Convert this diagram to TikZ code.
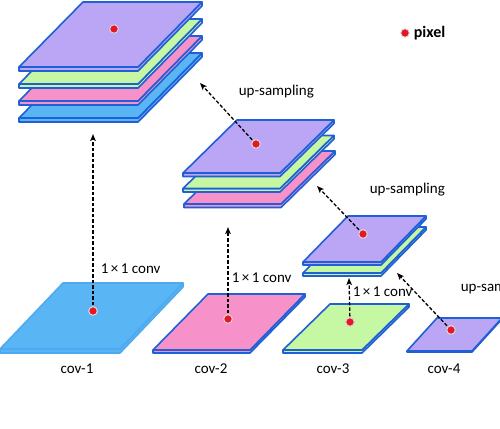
\documentclass[tikz,border=0pt]{standalone}
\usepackage{fontspec}
\setmainfont{Carlito}
\usepackage{tikz}
\usetikzlibrary{shapes,arrows,arrows.meta}
\usetikzlibrary{calc}

\definecolor{layerpurple}{RGB}{186,166,245}
\definecolor{layergreen}{RGB}{198,247,162}
\definecolor{layerpink}{RGB}{246,145,201}
\definecolor{layerblue}{RGB}{90,181,245}
\definecolor{edgeblue}{RGB}{32,96,214}
\definecolor{covblue}{RGB}{78,170,240}
\definecolor{dotred}{RGB}{232,20,40}

% slab: fill, edge, x0, y0, width, skew, depth, thickness
\newcommand{\slab}[8]{%
	\filldraw[fill=#1,draw=#2,line join=round] (#3,#4) -- ++(#5,0) -- ++(#6,-#7) -- ++(0,#8) -- ++(-#6,#7) -- ++(-#5,0) -- cycle;
	\filldraw[fill=#1,draw=#2,line join=round] (#3,#4) -- ++(#5,0) -- ++(#6,-#7) -- ++(-#5,0) -- cycle;
}

\begin{document}
\begin{tikzpicture}[x=1pt,y=-1pt,line width=1.6pt,
	pixdot/.style={circle,fill=dotred,draw=black!15,line width=0.9pt,inner sep=0pt,minimum size=8.5pt},
	uparrow/.style={-{Stealth[length=7pt,width=5.5pt,inset=1.5pt]},line width=1.3pt,dash pattern=on 3.5pt off 2pt,shorten <=1pt},
	lbl/.style={font=\fontsize{15}{18}\selectfont,text=black,inner sep=0pt}]
	\clip (0,0) rectangle (500,428);
	\fill[white] (0,0) rectangle (500,428);

	% output of cov-1
	\slab{layerblue}{edgeblue}{19}{118}{119}{64}{65}{4}
	\slab{layerpink}{edgeblue}{19}{101}{119}{64}{65}{4}
	\slab{layergreen}{edgeblue}{19}{84}{119}{64}{65}{4}
	\slab{layerpurple}{edgeblue}{19}{67}{119}{64}{65}{4}

	% output of cov-2
	\slab{layerpink}{edgeblue}{184}{204}{97}{54}{53}{3.5}
	\slab{layergreen}{edgeblue}{183}{188.5}{97}{54}{53}{3.5}
	\slab{layerpurple}{edgeblue}{183}{173}{97}{54}{53}{3.5}

	% output of cov-3
	\slab{layergreen}{edgeblue}{303}{273}{78}{45}{46}{3}
	\slab{layerpurple}{edgeblue}{303}{262}{78}{45}{46}{3}

	% input layers
	\slab{layerblue}{covblue}{0}{349}{120}{63}{66}{4}
	\slab{layerpink}{edgeblue}{153}{350}{97}{55}{56}{3}
	\slab{layergreen}{edgeblue}{283}{350}{79}{47}{46}{3}
	\slab{layerpurple}{edgeblue}{407}{351}{65}{30}{33}{1}

	\node[pixdot] (p0) at (114,29) {};
	\node[pixdot] (p1) at (93,311) {};
	\node[pixdot] (p2) at (228,319) {};
	\node[pixdot] (p3) at (350,322) {};
	\node[pixdot] (p4) at (451,330) {};
	\node[pixdot] (q2) at (256,144) {};
	\node[pixdot] (q3) at (363,234) {};

	\coordinate (t1) at (93,134);
	\coordinate (t2) at (228,227);
	\coordinate (t3) at (349,278);
	\coordinate (t4) at (397,273);
	\coordinate (u3) at (317,186);
	\coordinate (u2) at (200,83);

	\draw[uparrow] (p1) -- (t1);
	\draw[uparrow] (p2) -- (t2);
	\draw[uparrow] (p3) -- (t3);
	\draw[uparrow] (p4) -- (t4);
	\draw[uparrow] (q3) -- (u3);
	\draw[uparrow] (q2) -- (u2);

	\node[pixdot] at (p1) {};
	\node[pixdot] at (p2) {};
	\node[pixdot] at (p3) {};
	\node[pixdot] at (p4) {};
	\node[pixdot] at (q2) {};
	\node[pixdot] at (q3) {};

	\node[lbl,anchor=west] (c1) at (100,269) {1\,×\,1 conv};
	\node[lbl,anchor=west] (c2) at (231,278) {1\,×\,1 conv};
	\node[lbl,anchor=west] (c3) at (352,292) {1\,×\,1 conv};
	\node[lbl,anchor=west] (s2) at (238,92) {up-sampling};
	\node[lbl,anchor=west] (s3) at (369,190) {up-sampling};
	\node[lbl,anchor=west] (s4) at (460,288) {up-sampling};

	\node[lbl] (n1) at (77,369) {cov-1};
	\node[lbl] (n2) at (211,369) {cov-2};
	\node[lbl] (n3) at (333,369) {cov-3};
	\node[lbl] (n4) at (444,369) {cov-4};

	\node[pixdot] (key) at (405,33) {};
	\node[lbl,anchor=west,font=\fontsize{16}{19}\selectfont\bfseries] (keytext) at (413,33) {pixel};
\end{tikzpicture}
\end{document}
